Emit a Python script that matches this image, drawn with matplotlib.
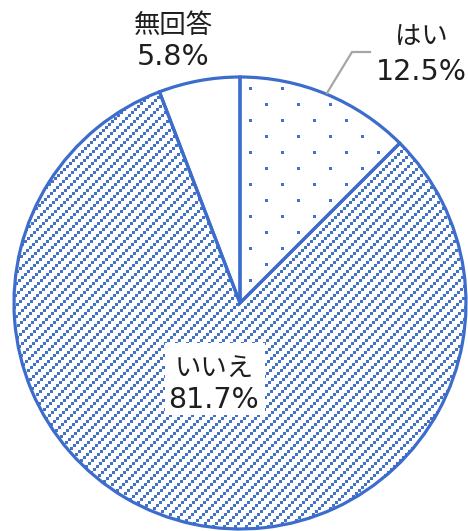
import numpy as np
import matplotlib
matplotlib.use("Agg")
import matplotlib.pyplot as plt
from matplotlib.patches import Rectangle
from matplotlib.colors import to_rgba

# Survey answers
categories = ["はい", "いいえ", "無回答"]
shares = [12.5, 81.7, 5.8]

W, H = 468, 531
BLUE = "#4472C4"
EDGE = "#3D6DCC"
INK = "#1E1E1E"
JP_FONT = ["Noto Sans CJK JP", "DejaVu Sans"]
NUM_FONT = ["DejaVu Sans"]

fig = plt.figure(figsize=(W / 100, H / 100), dpi=100)
ax = fig.add_axes([0, 0, 1, 1])

cx, cy, r = 240, H - 303, 226
wedges, _ = ax.pie(shares, startangle=90, counterclock=False,
                   center=(cx, cy), radius=r,
                   wedgeprops=dict(facecolor="none", edgecolor=EDGE,
                                   linewidth=2.3, zorder=3))

# Pixel fill patterns (one canvas pixel per array cell)
yy, xx = np.mgrid[0:H, 0:W]
# sparse staggered dots
row = (yy - 87) // 16
dot_mask = ((yy - 87) % 16 < 3) & ((xx - 249 - 16 * (row % 2)) % 32 < 3)
# upward diagonals built from 3-px squares
diag_mask = (xx + yy - yy % 3) % 11 < 3


def pattern_image(mask, wedge):
    rgba = np.zeros((H, W, 4))
    rgba[mask] = to_rgba(BLUE)
    im = ax.imshow(rgba, extent=(0, W, 0, H), origin="upper",
                   interpolation="nearest", zorder=2, aspect="auto")
    im.set_clip_path(wedge)
    return im


pattern_image(dot_mask, wedges[0])
pattern_image(diag_mask, wedges[1])
ax.set_xlim(0, W)
ax.set_ylim(0, H)
ax.set_aspect("equal")
ax.axis("off")

# white plate behind the large slice's label
ax.add_patch(Rectangle((165, H - 415), 100, 72, facecolor="white",
                       edgecolor="none", zorder=4))


def label(x, base_jp, base_num, name, pct):
    ax.text(x, H - base_jp, name, ha="center", va="baseline", fontsize=19,
            family=JP_FONT, color=INK, zorder=5)
    ax.text(x, H - base_num, pct, ha="center", va="baseline", fontsize=20.5,
            family=NUM_FONT, color=INK, zorder=5)


label(421, 44, 80, categories[0], f"{shares[0]}%")
label(214, 376, 408, categories[1], f"{shares[1]}%")
label(173, 33, 65, categories[2], f"{shares[2]}%")

ax.plot([327, 352, 370], [H - 93, H - 52, H - 52], color="#A6A6A6",
        linewidth=1.6, zorder=4)

fig.savefig("out.png", dpi=100, facecolor="white")
